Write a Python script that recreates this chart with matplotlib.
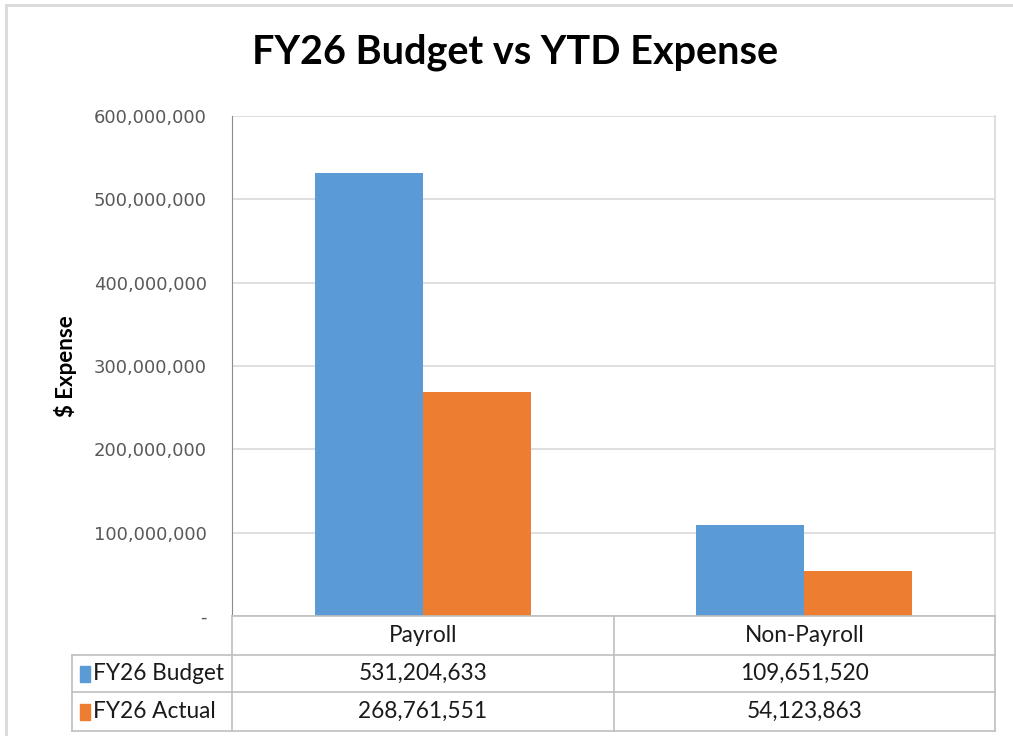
import matplotlib.pyplot as plt
import matplotlib.ticker as mticker
import matplotlib.transforms as mtransforms
from matplotlib.lines import Line2D
from matplotlib.patches import Rectangle
import numpy as np

categories = ["Payroll", "Non-Payroll"]
series_names = ["FY26 Budget", "FY26 Actual"]
budget = [531204633, 109651520]
actual = [268761551, 54123863]
yticks = [0, 100000000, 200000000, 300000000, 400000000, 500000000, 600000000]

colors = ["#5B9BD5", "#ED7D31"]
W, H = 1013, 736

fig = plt.figure(figsize=(W / 100, H / 100), dpi=100)


def fx(px):
    return px / W


def fy(py):
    return 1 - py / H


# plot area in pixel coordinates of the reference
left, right, top, bottom = 232, 995, 116, 616
ax = fig.add_axes([fx(left), fy(bottom), fx(right - left), (bottom - top) / H])

x = np.arange(len(categories))
bw = 0.283
ax.bar(x - bw / 2, budget, bw, color=colors[0], zorder=3)
ax.bar(x + bw / 2, actual, bw, color=colors[1], zorder=3)

ax.set_xlim(-0.5, len(categories) - 0.5)
ax.set_ylim(0, 600000000)
ax.set_yticks(yticks)
ax.yaxis.set_major_formatter(mticker.FuncFormatter(lambda v, p: "-" if v == 0 else f"{v:,.0f}"))
ax.tick_params(axis="y", length=0, pad=18, labelsize=13, labelcolor="#595959")
ax.tick_params(axis="x", length=0, labelbottom=False)
ax.grid(axis="y", color="#d9d9d9", lw=1.2, zorder=0)
for s in ["top", "bottom"]:
    ax.spines[s].set_visible(False)
ax.spines["left"].set_color("#8c8c8c")
ax.spines["right"].set_color("#d9d9d9")
ax.spines["right"].set_linewidth(1.2)

ax.set_ylabel("$ Expense", fontsize=16, fontweight="bold", family=["Lato", "DejaVu Sans"], labelpad=12)

fig.text(fx(515), fy(52), "FY26 Budget vs YTD Expense", ha="center", va="center",
         fontsize=28.5, fontweight="bold", family=["Lato", "DejaVu Sans"])

# outer chart border
fig.add_artist(Line2D([fx(6), 1.0], [fy(5), fy(5)], color="#d9d9d9", lw=2))
fig.add_artist(Line2D([fx(6), fx(6)], [fy(5), 0.0], color="#d9d9d9", lw=2))

# data table below the plot
tc = "#bfbfbf"
rows_y = [616, 655, 692, 731]
tbl_left = 72
fig.add_artist(Line2D([fx(left), fx(right)], [fy(rows_y[0]), fy(rows_y[0])], color=tc, lw=1.2))
for ry in rows_y[1:]:
    fig.add_artist(Line2D([fx(tbl_left), fx(right)], [fy(ry), fy(ry)], color=tc, lw=1.2))
fig.add_artist(Line2D([fx(left), fx(left)], [fy(rows_y[0]), fy(rows_y[-1])], color=tc, lw=1.2))
fig.add_artist(Line2D([fx(right), fx(right)], [fy(rows_y[0]), fy(rows_y[-1])], color=tc, lw=1.2))
fig.add_artist(Line2D([fx(tbl_left), fx(tbl_left)], [fy(rows_y[1]), fy(rows_y[-1])], color=tc, lw=1.2))

trans = mtransforms.blended_transform_factory(ax.transData, fig.transFigure)
for i in range(len(categories) - 1):
    fig.add_artist(Line2D([i + 0.5, i + 0.5], [fy(rows_y[0]), fy(rows_y[-1])], color=tc, lw=1.2, transform=trans))

tfont = dict(fontsize=16.3, family=["Lato", "DejaVu Sans"], color="#1a1a1a", va="center", ha="center")
for i, c in enumerate(categories):
    fig.text(i, fy((rows_y[0] + rows_y[1]) / 2), c, transform=trans, **tfont)

for r, (name, vals) in enumerate(zip(series_names, [budget, actual])):
    cy = (rows_y[r + 1] + rows_y[r + 2]) / 2
    fig.add_artist(Rectangle((fx(80), fy(cy + 8)), fx(10), 16 / H, color=colors[r]))
    fig.text(fx(93), fy(cy), name, fontsize=16.3, family=["Lato", "DejaVu Sans"], color="#1a1a1a",
             va="center", ha="left")
    for i, v in enumerate(vals):
        fig.text(i, fy(cy), f"{v:,}", transform=trans, **tfont)

fig.savefig("out.png", dpi=100)
